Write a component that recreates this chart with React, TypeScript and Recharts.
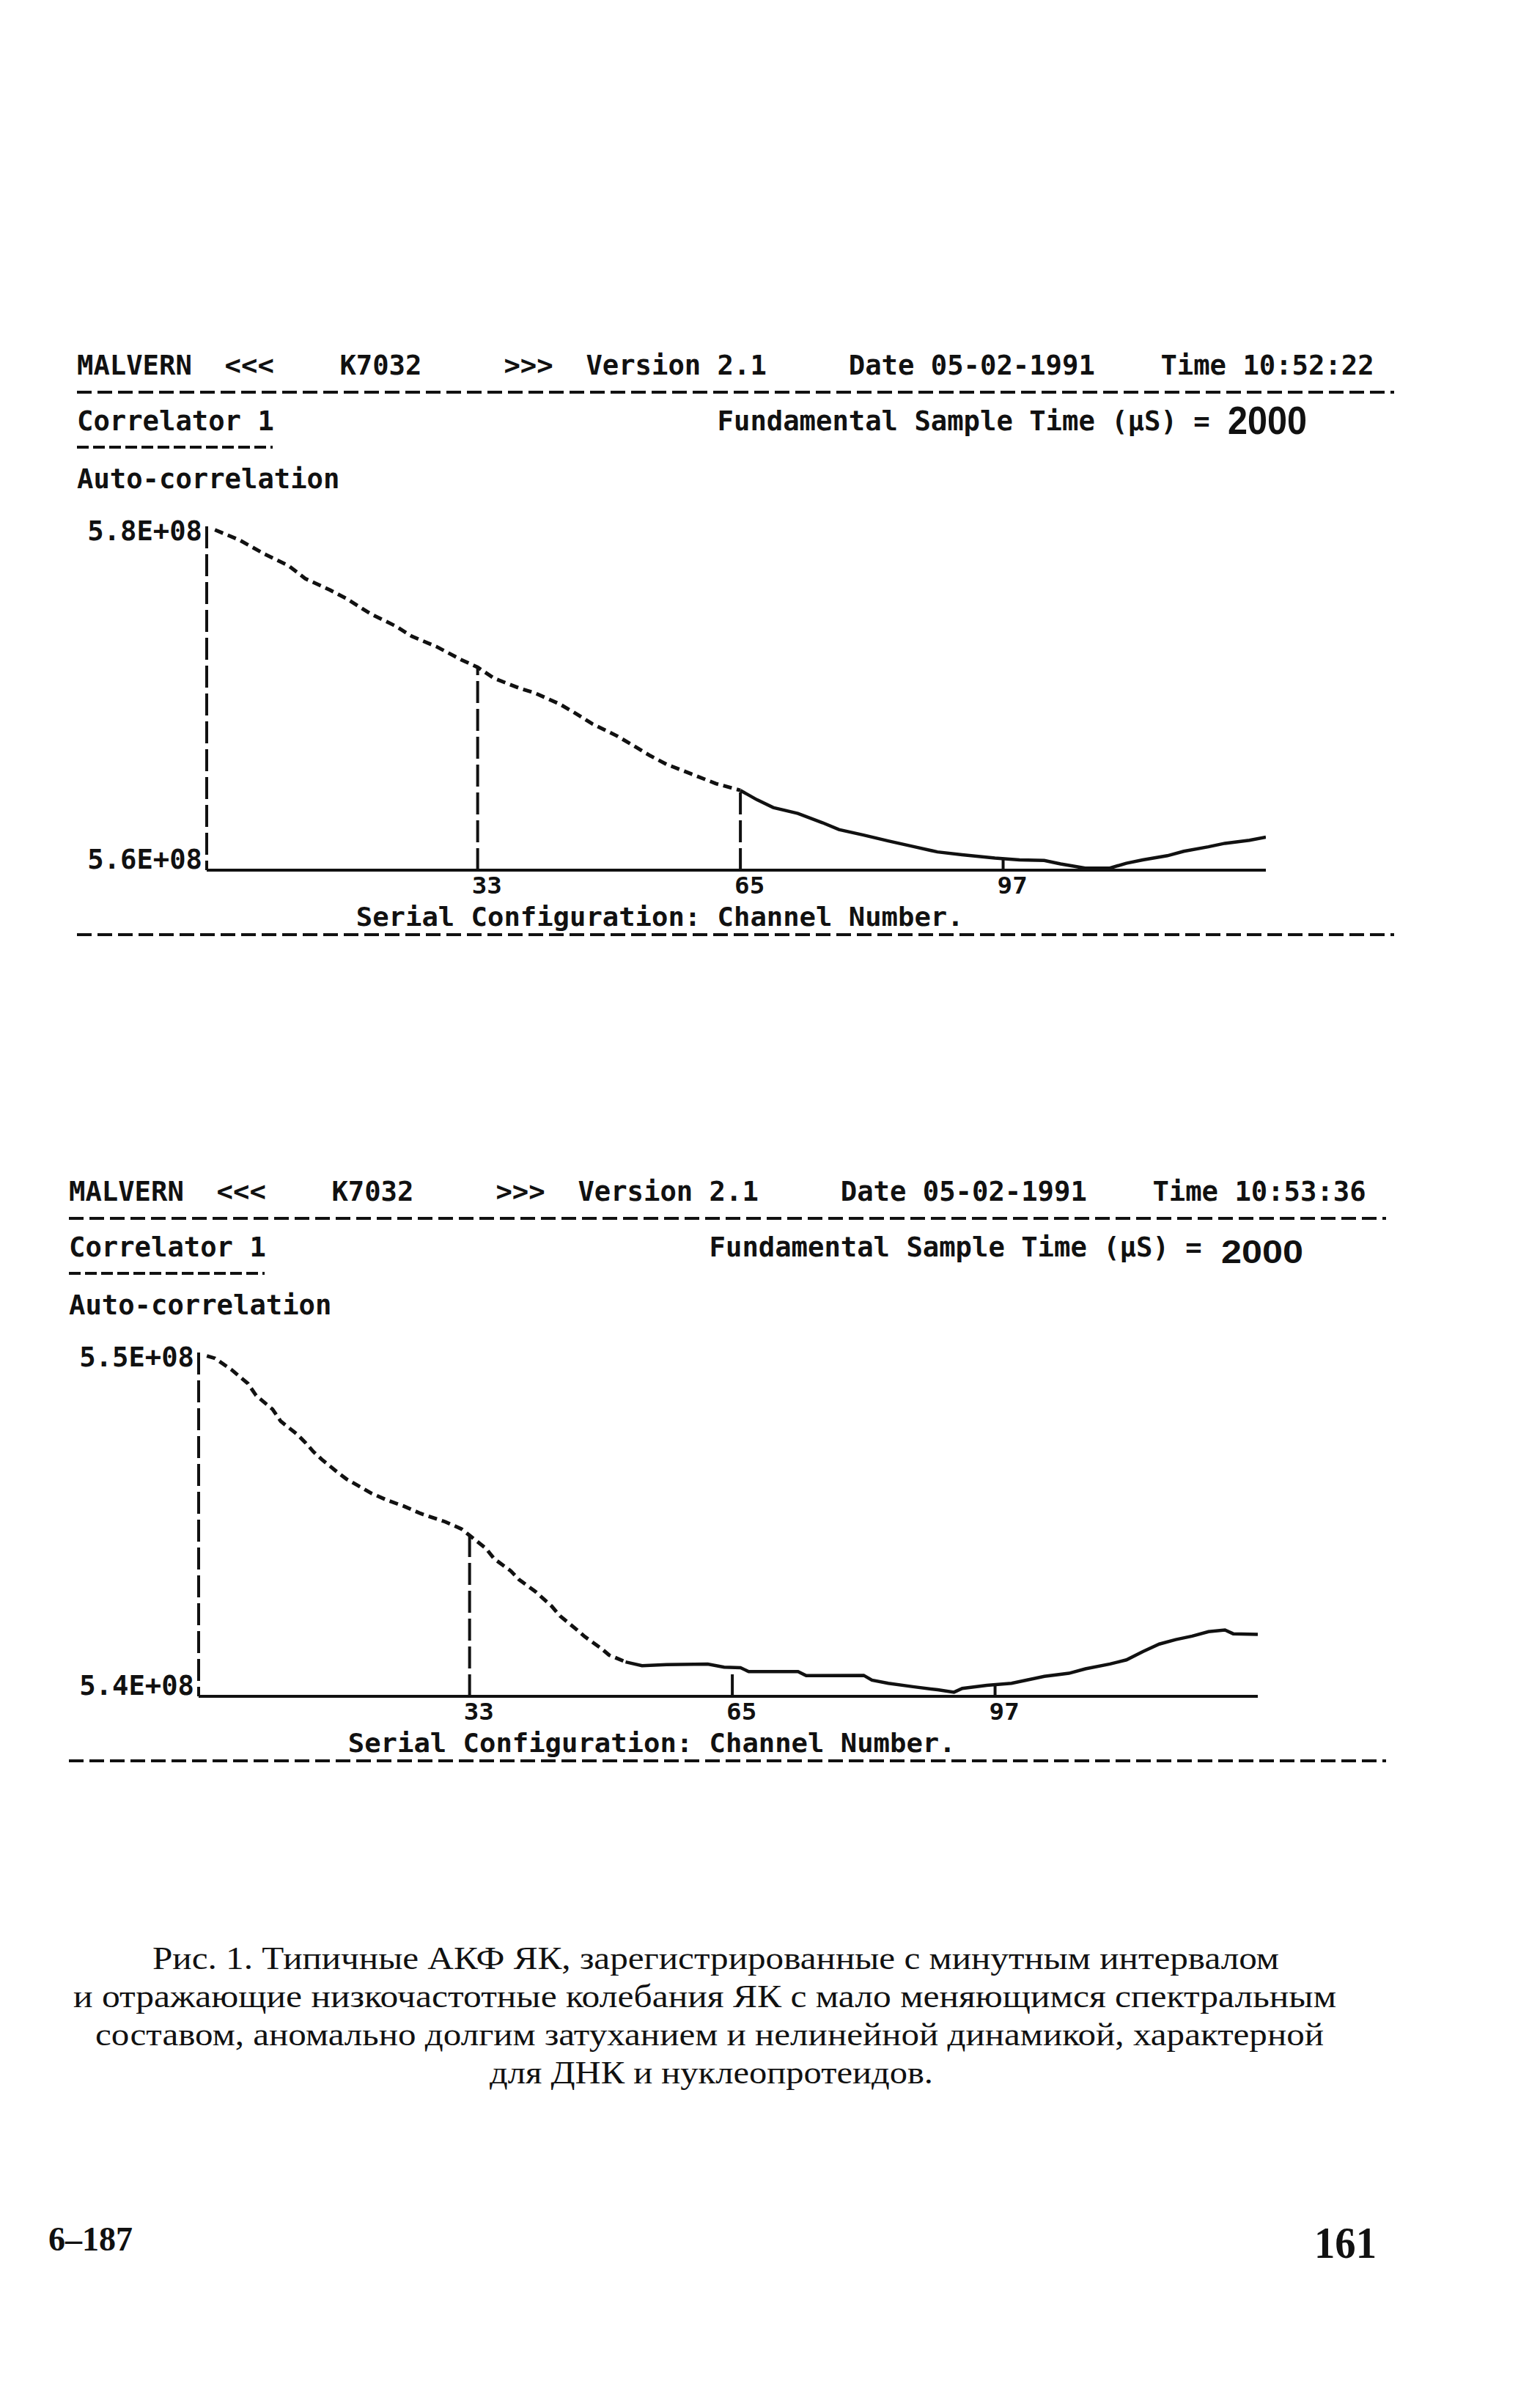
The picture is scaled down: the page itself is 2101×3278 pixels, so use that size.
import React from 'react';
import { LineChart, Line, XAxis, YAxis, ReferenceLine } from 'recharts';

// ---------- DATA ----------
const xTicks = [33, 65, 97];

// Panel 1 (10:52:22), values in units of 1E+08
const topChannels = [1, 4, 7, 10, 12, 15, 17, 20, 23, 25, 28, 31, 33, 35, 38, 40, 43, 45, 47, 50, 52, 54, 56, 59, 62, 65, 67, 69, 72, 75, 77, 80, 83, 86, 89, 92, 96, 99, 102, 104, 107, 110, 112, 114, 117, 119, 122, 124, 127, 129];
const topValues = [5.798, 5.792, 5.784, 5.777, 5.7696, 5.763, 5.758, 5.749, 5.742, 5.736, 5.73, 5.7224, 5.718, 5.7116, 5.706, 5.703, 5.6966, 5.691, 5.685, 5.678, 5.6724, 5.6666, 5.6616, 5.656, 5.6504, 5.6464, 5.641, 5.6364, 5.633, 5.6276, 5.6236, 5.6204, 5.617, 5.6138, 5.6106, 5.609, 5.607, 5.606, 5.6056, 5.6036, 5.6012, 5.6012, 5.604, 5.606, 5.6084, 5.611, 5.6136, 5.6156, 5.6174, 5.6192];
const topYTicks = [5.6, 5.8];
const topSplit = 65;

// Panel 2 (10:53:36), values in units of 1E+08
const bottomChannels = [1, 2, 4, 6, 7, 9, 10, 12, 13, 14, 15, 17, 18, 20, 21, 23, 25, 27, 30, 32, 33, 35, 36, 38, 39, 41, 43, 44, 46, 47, 49, 50, 52, 54, 57, 62, 64, 66, 67, 73, 74, 81, 82, 84, 87, 90, 92, 93, 96, 99, 101, 103, 106, 108, 111, 113, 115, 117, 119, 121, 123, 125, 126, 129];
const bottomValues = [5.499, 5.4983, 5.495, 5.491, 5.4875, 5.4835, 5.48, 5.4762, 5.4738, 5.4711, 5.4689, 5.465, 5.4632, 5.4605, 5.4591, 5.457, 5.4553, 5.4532, 5.4508, 5.4487, 5.4468, 5.443, 5.44, 5.4365, 5.434, 5.4305, 5.4262, 5.4234, 5.4195, 5.4174, 5.414, 5.412, 5.41, 5.4089, 5.4092, 5.4094, 5.4085, 5.4083, 5.4072, 5.4072, 5.406, 5.4061, 5.4047, 5.4038, 5.4028, 5.4019, 5.4012, 5.4023, 5.4032, 5.4038, 5.4048, 5.4058, 5.4067, 5.408, 5.4094, 5.4106, 5.413, 5.4152, 5.4165, 5.4175, 5.4188, 5.4193, 5.4182, 5.418];
const bottomYTicks = [5.4, 5.5];
const bottomSplit = 52;

const captionLines = [
  'Рис. 1. Типичные АКФ ЯК, зарегистрированные с минутным интервалом',
  'и отражающие низкочастотные колебания ЯК с мало меняющимся спектральным',
  'составом, аномально долгим затуханием и нелинейной динамикой, характерной',
  'для ДНК и нуклеопротеидов.',
];

// ---------- LAYOUT / STYLE ----------
const CW = 22.4;
const MONO = '"DejaVu Sans Mono", "Liberation Mono", monospace';
const SERIF = '"Liberation Serif", "DejaVu Serif", serif';
const X0 = 105;

function valueAt(chs: number[], vals: number[], c: number) {
  for (let i = 0; i < chs.length - 1; i++) {
    if (c >= chs[i] && c <= chs[i + 1]) {
      const t = (c - chs[i]) / (chs[i + 1] - chs[i]);
      return vals[i] + t * (vals[i + 1] - vals[i]);
    }
  }
  return vals[vals.length - 1];
}

const fmt = (v: number) => `${v.toFixed(1)}E+08`;

function Mono({ x, y, text, size = 38 }: { x: number; y: number; text: string; size?: number }) {
  return (
    <text
      x={x}
      y={y}
      fontFamily={MONO}
      fontWeight={700}
      fontSize={size}
      fill="#111"
      textLength={text.length * CW}
      lengthAdjust="spacingAndGlyphs"
      style={{ whiteSpace: 'pre' }}
    >
      {text}
    </text>
  );
}

function PanelText({ dx, dy, time }: { dx: number; dy: number; time: string }) {
  const cx = (col: number) => X0 + dx + col * CW;
  const header = [
    { col: 0, t: 'MALVERN' },
    { col: 9, t: '<<<' },
    { col: 16, t: 'K7032' },
    { col: 26, t: '>>>' },
    { col: 31, t: 'Version 2.1' },
    { col: 47, t: 'Date 05-02-1991' },
    { col: 66, t: 'Time ' + time },
  ];
  return (
    <g>
      {header.map((h) => (
        <Mono key={h.t} x={cx(h.col)} y={511 + dy} text={h.t} />
      ))}
      <line x1={X0 + dx} x2={1902 + dx} y1={535 + dy} y2={535 + dy} stroke="#111" strokeWidth={4} strokeDasharray="20 8" />
      <Mono x={cx(0)} y={587 + dy} text="Correlator 1" />
      <Mono x={cx(39)} y={587 + dy} text="Fundamental Sample Time (µS) =" />
      <line x1={X0 + dx} x2={372 + dx} y1={610 + dy} y2={610 + dy} stroke="#111" strokeWidth={4} strokeDasharray="16 6" />
      <Mono x={cx(0)} y={666 + dy} text="Auto-correlation" />
      <Mono x={cx(17)} y={1263 + dy} text="Serial Configuration: Channel Number." size={35} />
      <line x1={X0 + dx} x2={1902 + dx} y1={1275 + dy} y2={1275 + dy} stroke="#111" strokeWidth={4} strokeDasharray="20 8" />
    </g>
  );
}

function AcfChart({
  channels, values, split, yTicks, dx, top,
}: {
  channels: number[]; values: number[]; split: number; yTicks: number[]; dx: number; top: number;
}) {
  const data = channels.map((c, i) => ({
    ch: c,
    dotted: c <= split ? values[i] : null,
    solid: c >= split ? values[i] : null,
  }));
  const yMin = yTicks[0];
  const yMax = yTicks[1];
  const YTick = (p: any) => {
    const isTop = p.payload.value === yMax;
    const label = fmt(p.payload.value);
    return (
      <text
        x={p.x}
        y={p.y + (isTop ? 19 : -2)}
        textAnchor="end"
        fontFamily={MONO}
        fontWeight={700}
        fontSize={38}
        fill="#111"
        textLength={label.length * CW}
        lengthAdjust="spacingAndGlyphs"
      >
        {label}
      </text>
    );
  };
  const XTick = (p: any) => {
    const label = String(p.payload.value);
    return (
      <text
        x={p.x - 8}
        y={p.y + 32}
        fontFamily={MONO}
        fontWeight={700}
        fontSize={32}
        fill="#111"
        textLength={label.length * CW * 0.92}
        lengthAdjust="spacingAndGlyphs"
      >
        {label}
      </text>
    );
  };
  return (
    <div style={{ position: 'absolute', left: 0, top }}>
      <LineChart
        width={2101}
        height={600}
        data={data}
        margin={{ top: 18, right: 374 - dx, bottom: 53, left: 82 + dx }}
      >
        <XAxis
          dataKey="ch"
          type="number"
          domain={[0, 129]}
          ticks={xTicks}
          allowDataOverflow
          height={60}
          tickSize={0}
          tickMargin={0}
          tickLine={false}
          axisLine={{ stroke: '#111', strokeWidth: 4 }}
          tick={XTick}
          interval={0}
        />
        <YAxis
          type="number"
          domain={[yMin, yMax]}
          ticks={yTicks}
          allowDataOverflow
          width={200}
          tickSize={0}
          tickMargin={6}
          tickLine={false}
          axisLine={{ stroke: '#111', strokeWidth: 4, strokeDasharray: '30 8' }}
          tick={YTick}
          interval={0}
        />
        {xTicks.map((t) => (
          <ReferenceLine
            key={t}
            segment={[{ x: t, y: yMin }, { x: t, y: valueAt(channels, values, t) }]}
            stroke="#111"
            strokeWidth={4}
            strokeDasharray="30 8"
          />
        ))}
        <Line
          dataKey="dotted"
          type="linear"
          stroke="#111"
          strokeWidth={5}
          strokeDasharray="12 7"
          dot={false}
          connectNulls={false}
          isAnimationActive={false}
        />
        <Line
          dataKey="solid"
          type="linear"
          stroke="#111"
          strokeWidth={4.5}
          dot={false}
          connectNulls={false}
          isAnimationActive={false}
        />
      </LineChart>
    </div>
  );
}

export default function App() {
  const capX = [208, 100, 130, 668];
  const capW = [1537, 1723, 1676, 605];
  const capY = [2686, 2738, 2790, 2842];
  return (
    <div style={{ position: 'absolute', left: 0, top: 0, width: 2101, height: 3278, background: '#fff' }}>
      <AcfChart channels={topChannels} values={topValues} split={topSplit} yTicks={topYTicks} dx={0} top={700} />
      <AcfChart channels={bottomChannels} values={bottomValues} split={bottomSplit} yTicks={bottomYTicks} dx={-11} top={1827} />
      <svg width={2101} height={3278} style={{ position: 'absolute', left: 0, top: 0, pointerEvents: 'none' }}>
        <PanelText dx={0} dy={0} time="10:52:22" />
        <PanelText dx={-11} dy={1127} time="10:53:36" />
        <text x={1675} y={592} fontFamily='"Liberation Sans", sans-serif' fontWeight={700} fontSize={54} fill="#111" textLength={108} lengthAdjust="spacingAndGlyphs">2000</text>
        <text x={1666} y={1723} fontFamily='"Liberation Sans", sans-serif' fontWeight={700} fontSize={44} fill="#111" textLength={112} lengthAdjust="spacingAndGlyphs">2000</text>
        {captionLines.map((l, i) => (
          <text key={i} x={capX[i]} y={capY[i]} fontFamily={SERIF} fontSize={44} fill="#111" textLength={capW[i]} lengthAdjust="spacingAndGlyphs">{l}</text>
        ))}
        <text x={66} y={3070} fontFamily={SERIF} fontWeight={700} fontSize={46} fill="#111" textLength={115} lengthAdjust="spacingAndGlyphs">6–187</text>
        <text x={1793} y={3080} fontFamily={SERIF} fontWeight={700} fontSize={62} fill="#111" textLength={85} lengthAdjust="spacingAndGlyphs">161</text>
      </svg>
    </div>
  );
}
